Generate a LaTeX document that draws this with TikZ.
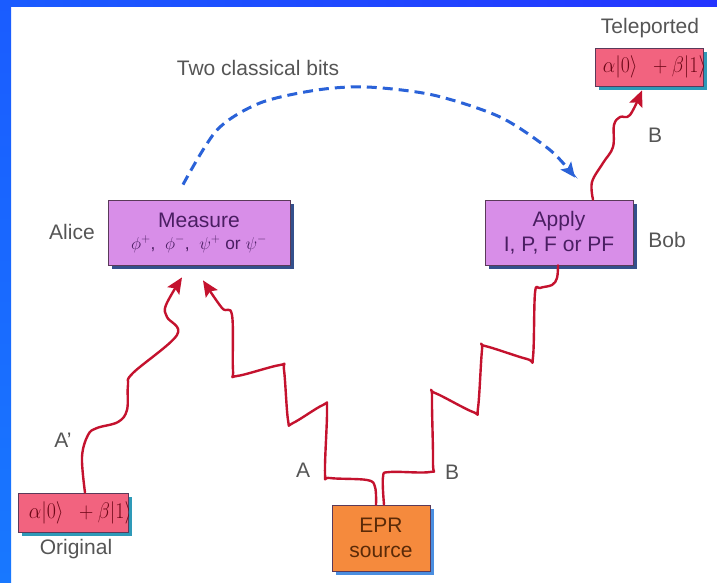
\documentclass[tikz,border=0pt]{standalone}
\usepackage{fontspec}
\setmainfont{Liberation Sans}
\usetikzlibrary{arrows.meta,shadows}

\definecolor{frametop}{HTML}{2434FF}
\definecolor{frametopl}{HTML}{1A5CFF}
\definecolor{frameleftb}{HTML}{1878FF}
\definecolor{labelgray}{HTML}{555555}
\definecolor{violetfill}{HTML}{D88EE8}
\definecolor{violettext}{HTML}{4A1E62}
\definecolor{pinkfill}{HTML}{F2637F}
\definecolor{pinktext}{HTML}{6E0818}
\definecolor{orangefill}{HTML}{F58A3D}
\definecolor{orangetext}{HTML}{5A2A08}
\definecolor{wavered}{HTML}{C4122E}
\definecolor{bitblue}{HTML}{2A62D8}
\definecolor{boxedge}{HTML}{5A3A5A}
\definecolor{shadowblue}{HTML}{34508C}
\definecolor{shadowteal}{HTML}{2E9AB8}
\definecolor{shadowsky}{HTML}{4A8EE0}

\newcommand{\pxfont}[1]{\fontsize{#1}{#1}\selectfont}
\newcommand{\qstate}{\scalebox{1.15}[1.3]{$\alpha|0\rangle\ \ +\beta|1\rangle$}}

\tikzset{
  x=1pt, y=-1pt,
  box/.style={draw=boxedge, line width=0.8pt, inner sep=0pt, align=center},
  violetbox/.style={box, fill=violetfill, text=violettext, font=\pxfont{21},
    drop shadow={shadow xshift=4pt, shadow yshift=-4pt, fill=shadowblue, opacity=1}},
  pinkbox/.style={box, fill=pinkfill, minimum width=108pt, minimum height=38pt,
    drop shadow={shadow xshift=4pt, shadow yshift=-4pt, fill=shadowteal, opacity=1}},
  statetext/.style={anchor=west, text=pinktext, inner sep=0pt, font=\pxfont{17.28}},
  orangebox/.style={box, fill=orangefill, text=orangetext, font=\pxfont{21},
    drop shadow={shadow xshift=4pt, shadow yshift=-4pt, fill=shadowsky, opacity=1}},
  label/.style={text=labelgray, font=\pxfont{21}, inner sep=0pt},
  wave/.style={draw=wavered, line width=2.4pt, line join=round, line cap=round},
  wavearrow/.style={wave, -{Stealth[length=16pt,width=14pt,inset=3pt]}},
  bits/.style={draw=bitblue, line width=3pt, dash pattern=on 10pt off 6pt,
    -{Stealth[length=15pt,width=13pt,inset=3pt]}},
}

\begin{document}
\begin{tikzpicture}
  % page and frame
  \useasboundingbox (0,0) rectangle (717,583);
  \fill[white] (0,0) rectangle (717,583);
  \shade[left color=frametopl, right color=frametop] (0,0) rectangle (717,7);
  \shade[top color=frametopl, bottom color=frameleftb] (0,0) rectangle (11,583);

  % boxes
  \node[violetbox, minimum width=182pt, minimum height=65pt] (meas) at (199,232.5)
    {Measure\\[1pt]{\pxfont{17.28}$\phi^+$,\ \ $\phi^-$,\ \ $\psi^+$ or $\psi^-$}};
  \node[violetbox, minimum width=148pt, minimum height=65pt] (apply) at (559,232.5)
    {Apply\\[4pt]I, P, F or PF};
  \node[pinkbox] (tele) at (649,67) {};
  \node[pinkbox, minimum width=110pt, minimum height=39pt] (orig) at (73,512.5) {};
  \node[orangebox, minimum width=98pt, minimum height=66pt] (epr) at (381,538)
    {EPR\\[4pt]source};

  % the state written in the two pink boxes, cut off at the box edge
  \begin{scope}
    \clip (tele.south west) rectangle (tele.north east);
    \node[statetext] (telestate) at ([xshift=8pt]tele.west) {\qstate};
  \end{scope}
  \begin{scope}
    \clip (orig.south west) rectangle (orig.north east);
    \node[statetext] (origstate) at ([xshift=11pt]orig.west) {\qstate};
  \end{scope}

  % labels
  \node[label] (lteleported) at (650,28) {Teleported};
  \node[label] (lbits) at (258,68) {Two classical bits};
  \node[label] (lalice) at (72,232) {Alice};
  \node[label] (lbob) at (667,240) {Bob};
  \node[label] (loriginal) at (76,549) {Original};
  \node[label] (laprime) at (63,440) {A'};
  \node[label] (la) at (303,470) {A};
  \node[label] (lb) at (452,472) {B};
  \node[label] (lbtop) at (655,135) {B};

  % end points of the connectors
  \coordinate (o1) at ([xshift=12pt]orig.north);
  \coordinate (m1) at ([xshift=-17pt,yshift=-12pt]meas.south);
  \coordinate (m2) at ([xshift=4pt,yshift=-15pt]meas.south);
  \coordinate (e1) at ([xshift=-5pt]epr.north);
  \coordinate (e2) at ([xshift=3pt]epr.north);
  \coordinate (a1) at ([xshift=-1pt]apply.south);
  \coordinate (a2) at ([xshift=34pt]apply.north);
  \coordinate (t1) at ([xshift=-7pt,yshift=-4pt]tele.south);
  \coordinate (c1) at ([xshift=-16pt,yshift=15pt]meas.north);
  \coordinate (c2) at ([xshift=16pt,yshift=22pt]apply.north);

  % particle A' from the original to the measurement
  \draw[wavearrow] plot[smooth, tension=0.6] coordinates {(o1) (82,457) (88,435) (97,428)
    (118,422) (127,410) (128,385) (133,373) (177,335) (167,317) (166,305) (m1)};
  % particle A from the source to the measurement
  \draw[wavearrow] plot[smooth, tension=0.6] coordinates {(e1) (375,487) (367,480)
    (330,478) (325,473) (327,410) (323,405) (293,423) (288,420) (284,370) (280,365)
    (237,376) (233,370) (232,315) (222,308) (m2)};
  % particle B from the source to Bob
  \draw[wave] plot[smooth, tension=0.6] coordinates {(e2) (383,477) (390,472)
    (430,472) (433,463) (432,397) (435,393) (473,412) (478,408) (482,350) (485,346)
    (527,359) (533,357) (535,293) (540,288) (552,285) (557,278) (a1)};
  % teleported particle B
  \draw[wavearrow] plot[smooth, tension=0.6] coordinates {(a2) (592,182) (603,163)
    (613,147) (614,125) (620,117) (630,115) (t1)};

  % classical channel
  \draw[bits] plot[smooth] coordinates {(c1) (217,130) (260,103) (317,90) (367,87)
    (433,95) (500,117) (550,150) (c2)};
\end{tikzpicture}
\end{document}
